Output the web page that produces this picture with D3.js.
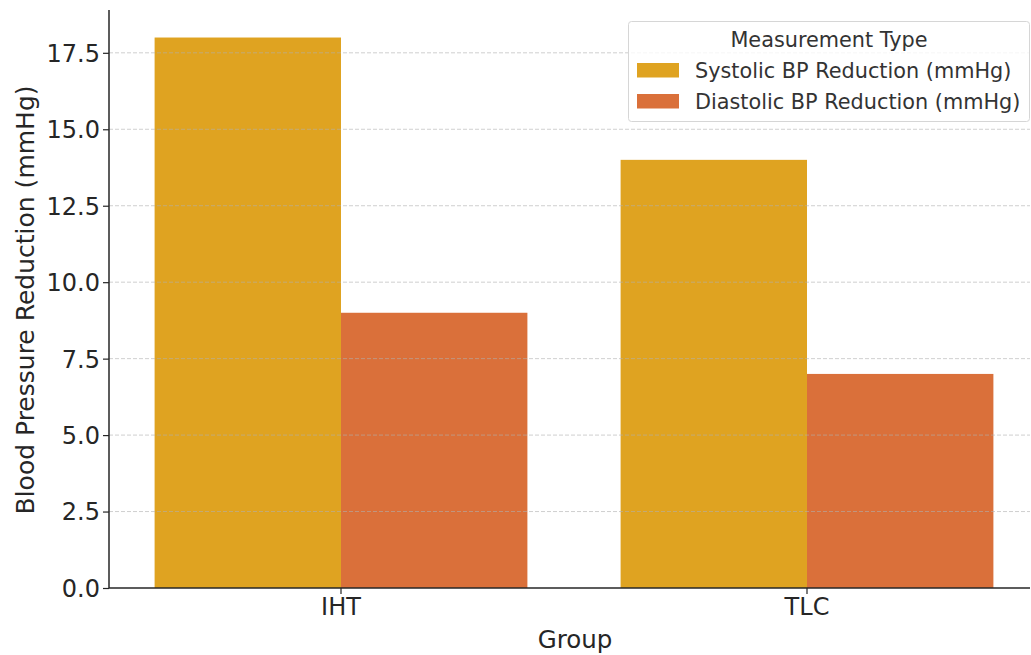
<!DOCTYPE html>
<html><head><meta charset="utf-8">
<script src="https://cdn.jsdelivr.net/npm/d3@7"></script>
<style>body{margin:0;background:#fff}svg{display:block;font-family:"DejaVu Sans",sans-serif}</style>
</head><body><svg id="c" width="1031" height="655"></svg>
<script>
const groups = ["IHT", "TLC"];
const seriesNames = ["Systolic BP Reduction (mmHg)", "Diastolic BP Reduction (mmHg)"];
const systolic = [18, 14];
const diastolic = [9, 7];
const yTicks = [0, 2.5, 5, 7.5, 10, 12.5, 15, 17.5];
const colors = ["#DFA321", "#DA703A"];

const svg = d3.select("#c");
const mLeft = 109, mRight = 1030, mTop = 10, mBottom = 588;
const xs = d3.scaleLinear().domain([0, 1]).range([341, 807]);
const y = d3.scaleLinear().domain([0, 18.9]).range([mBottom, mTop]);
const bw = 0.4;

const series = [systolic, diastolic];
series.forEach((vals, si) => {
  svg.append("g").selectAll("rect").data(vals).join("rect")
    .attr("x", (d, i) => xs(i - 0.4 + si * bw))
    .attr("width", (d, i) => xs(i - 0.4 + (si + 1) * bw) - xs(i - 0.4 + si * bw))
    .attr("y", d => y(d))
    .attr("height", d => y(0) - y(d))
    .attr("fill", colors[si]);
});

// gridlines over bars
svg.append("g").selectAll("line").data(yTicks.filter(t => t > 0)).join("line")
  .attr("x1", mLeft).attr("x2", mRight)
  .attr("y1", d => y(d)).attr("y2", d => y(d))
  .attr("stroke", "#b0b0b0").attr("stroke-opacity", 0.6)
  .attr("stroke-dasharray", "4,2").attr("stroke-width", 1);

// y axis
const yAxis = d3.axisLeft(y).tickValues(yTicks).tickFormat(d3.format(".1f")).tickSize(6).tickPadding(3);
const gy = svg.append("g").attr("transform", `translate(${mLeft},0)`).call(yAxis);
gy.attr("font-family", "DejaVu Sans");
gy.select(".domain").attr("d", `M0,${mTop}V${mBottom}`).attr("stroke", "#262626").attr("stroke-width", 1.5);
gy.selectAll(".tick line").attr("stroke", "#262626").attr("stroke-width", 1.2);
gy.selectAll(".tick text").attr("fill", "#262626").attr("font-size", 24).attr("dy", "0.35em");

// x axis
const gx = svg.append("g").attr("transform", `translate(0,${mBottom})`);
gx.append("line").attr("x1", mLeft).attr("x2", mRight).attr("stroke", "#262626").attr("stroke-width", 1.5);
const tk = gx.selectAll("g").data(groups).join("g").attr("transform", (d, i) => `translate(${xs(i)},0)`);
tk.append("line").attr("y2", 6).attr("stroke", "#262626").attr("stroke-width", 1.2);
tk.append("text").attr("y", 27).attr("text-anchor", "middle").attr("fill", "#262626").attr("font-size", 24).text(d => d);

svg.append("text").attr("x", 575).attr("y", 648).attr("text-anchor", "middle").attr("fill", "#262626").attr("font-size", 24.5).text("Group");
svg.append("text").attr("transform", "translate(34,300) rotate(-90)").attr("text-anchor", "middle").attr("fill", "#262626").attr("font-size", 25).text("Blood Pressure Reduction (mmHg)");

// legend
const lg = svg.append("g");
lg.append("rect").attr("x", 628.5).attr("y", 21.5).attr("width", 401).attr("height", 100).attr("rx", 3)
  .attr("fill", "#fff").attr("fill-opacity", 0.8).attr("stroke", "#d6d6d6");
lg.append("text").attr("x", 829).attr("y", 47).attr("text-anchor", "middle").attr("fill", "#333").attr("font-size", 20.8).text("Measurement Type");
seriesNames.forEach((n, i) => {
  lg.append("rect").attr("x", 637).attr("y", 63 + i * 31).attr("width", 42).attr("height", 14.5).attr("fill", colors[i]);
  lg.append("text").attr("x", 695).attr("y", 78 + i * 31).attr("fill", "#333").attr("font-size", 20.8).text(n);
});
</script></body></html>
